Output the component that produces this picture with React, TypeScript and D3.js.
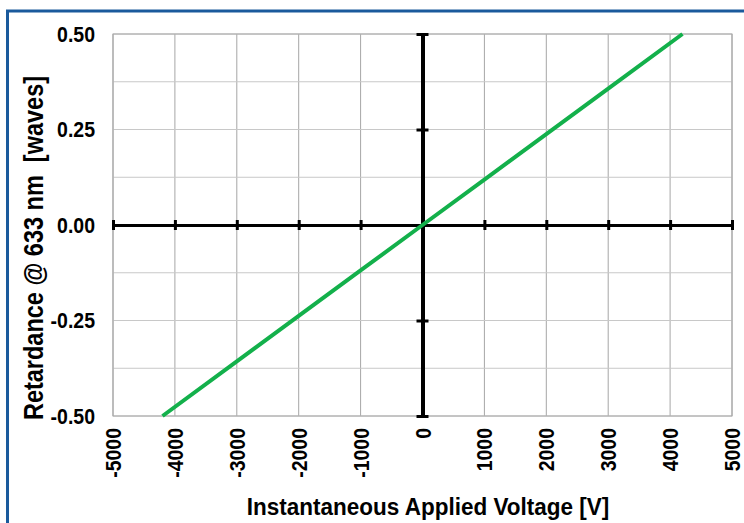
import React, { useEffect, useRef } from 'react';
import * as d3 from 'd3';

// applied voltage [V] and measured retardance [waves] at 633 nm
const voltages = [-4200, -3000, -2000, -1000, 0, 1000, 2000, 3000, 4200];
const retardance = [-0.5, -0.357, -0.238, -0.119, 0, 0.119, 0.238, 0.357, 0.5];

const xTicks = [-5000, -4000, -3000, -2000, -1000, 0, 1000, 2000, 3000, 4000, 5000];
const yTicks = [-0.5, -0.25, 0, 0.25, 0.5];
const yGrid = [-0.5, -0.375, -0.25, -0.125, 0, 0.125, 0.25, 0.375, 0.5];

const width = 744;
const height = 523;
const margin = { top: 34, right: 12, bottom: 107, left: 113 };
const font = 'Arial, "Liberation Sans", sans-serif';

const App: React.FC = () => {
  const ref = useRef<SVGSVGElement>(null);

  useEffect(() => {
    if (!ref.current) return;
    const svg = d3.select(ref.current);
    svg.selectAll('*').remove();

    const x = d3
      .scaleLinear()
      .domain([-5000, 5000])
      .range([margin.left, width - margin.right]);
    const y = d3
      .scaleLinear()
      .domain([-0.5, 0.5])
      .range([height - margin.bottom, margin.top]);

    svg.append('rect').attr('width', width).attr('height', height).attr('fill', '#fff');

    // frame
    svg
      .append('path')
      .attr('d', `M7.5,${height + 5} V11 H${width + 5}`)
      .attr('fill', 'none')
      .attr('stroke', '#1a5a9c')
      .attr('stroke-width', 3);

    const grid = svg.append('g');
    grid
      .selectAll('.vg')
      .data(xTicks)
      .enter()
      .append('line')
      .attr('x1', (d) => x(d))
      .attr('x2', (d) => x(d))
      .attr('y1', y(0.5))
      .attr('y2', y(-0.5))
      .attr('stroke', '#a6a6a6')
      .attr('stroke-width', 1);
    grid
      .selectAll('.hg')
      .data(yGrid)
      .enter()
      .append('line')
      .attr('x1', x(-5000))
      .attr('x2', x(5000))
      .attr('y1', (d) => y(d))
      .attr('y2', (d) => y(d))
      .attr('stroke', '#c8c8c8')
      .attr('stroke-width', 1);
    svg
      .append('rect')
      .attr('x', x(-5000))
      .attr('y', y(0.5))
      .attr('width', x(5000) - x(-5000))
      .attr('height', y(-0.5) - y(0.5))
      .attr('fill', 'none')
      .attr('stroke', '#a6a6a6');

    // axes through the origin
    const xAxis = d3.axisBottom(x).tickValues(xTicks).tickFormat(() => '').tickSizeInner(10).tickSizeOuter(0);
    const gx = svg
      .append('g')
      .attr('transform', `translate(0,${y(0)})`)
      .call(xAxis);
    gx.select('.domain').attr('stroke', '#000').attr('stroke-width', 3);
    gx.selectAll('.tick line').attr('y1', -5).attr('y2', 5).attr('stroke-width', 3);

    const yAxis = d3.axisLeft(y).tickValues(yTicks).tickFormat(() => '').tickSizeInner(10).tickSizeOuter(0);
    const gy = svg
      .append('g')
      .attr('transform', `translate(${x(0)},0)`)
      .call(yAxis);
    gy.select('.domain').attr('stroke', '#000').attr('stroke-width', 4);
    gy.selectAll('.tick line').attr('x1', -6).attr('x2', 6).attr('stroke-width', 3);

    // tick labels
    svg
      .append('g')
      .selectAll('text')
      .data(yTicks)
      .enter()
      .append('text')
      .attr('transform', (d) => `translate(95,${y(d)}) scale(1,1.1)`)
      .attr('dy', '0.36em')
      .attr('text-anchor', 'end')
      .attr('font-family', font)
      .attr('font-weight', 'bold')
      .attr('font-size', 19.5)
      .text((d) => d.toFixed(2));

    svg
      .append('g')
      .selectAll('text')
      .data(xTicks)
      .enter()
      .append('text')
      .attr('transform', (d) => `translate(${x(d)},${y(-0.5) + 12}) rotate(-90) scale(1,1.15)`)
      .attr('dy', '0.36em')
      .attr('text-anchor', 'end')
      .attr('font-family', font)
      .attr('font-weight', 'bold')
      .attr('font-size', 19.5)
      .text((d) => String(d));

    // axis titles
    svg
      .append('text')
      .attr('transform', 'translate(428,515) scale(1,1.1)')
      .attr('text-anchor', 'middle')
      .attr('font-family', font)
      .attr('font-weight', 'bold')
      .attr('font-size', 22.5)
      .text('Instantaneous Applied Voltage [V]');

    svg
      .append('text')
      .attr('transform', 'translate(43,248) rotate(-90) scale(1,1.15)')
      .attr('text-anchor', 'middle')
      .attr('font-family', font)
      .attr('font-weight', 'bold')
      .attr('font-size', 23.5)
      .attr('xml:space', 'preserve')
      .text('Retardance @ 633 nm  [waves]');

    // data line
    const pts = voltages.map((v, i) => [v, retardance[i]] as [number, number]);
    svg
      .append('path')
      .datum(pts)
      .attr('fill', 'none')
      .attr('stroke', '#13b04b')
      .attr('stroke-width', 4)
      .attr(
        'd',
        d3
          .line<[number, number]>()
          .x((d) => x(d[0]))
          .y((d) => y(d[1])),
      );
  }, []);

  return (
    <svg
      ref={ref}
      width={width}
      height={height}
      style={{ position: 'absolute', left: 0, top: 0 }}
    />
  );
};

export default App;
